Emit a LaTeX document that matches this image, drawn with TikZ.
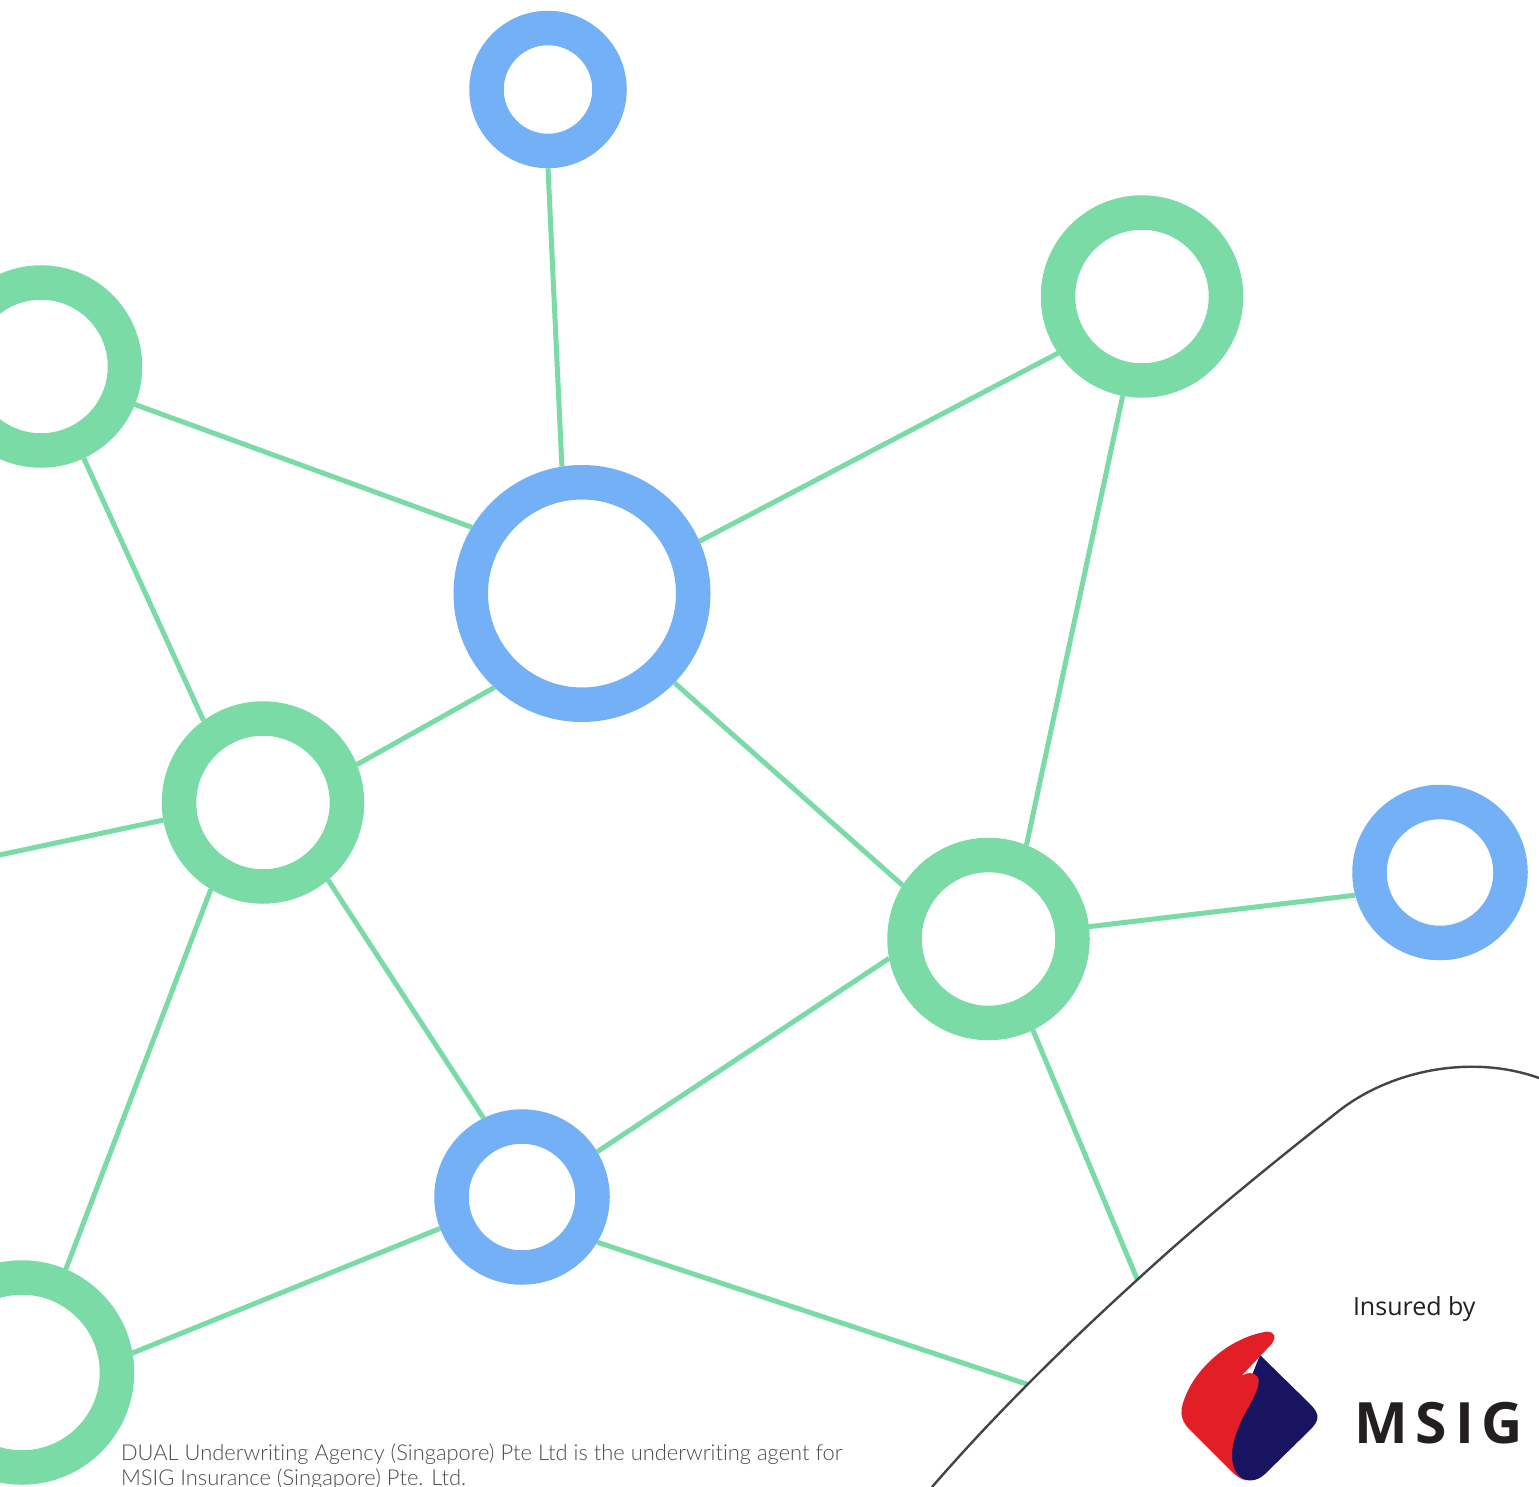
\documentclass[tikz,border=0pt]{standalone}
\usepackage{fontspec}
\setmainfont{Open Sans}
\newfontfamily\notefont[RawFeature=-liga]{Lato Light}
\newfontfamily\insfont{Open Sans}
\newfontfamily\brandfont[LetterSpace=14]{Open Sans}
\definecolor{gr}{HTML}{7BDBA6}
\definecolor{bl}{HTML}{73B0F5}
\definecolor{curvec}{HTML}{444446}
\definecolor{msred}{HTML}{E21F26}
\definecolor{msnavy}{HTML}{181461}
\definecolor{ink}{HTML}{231F20}
\definecolor{note}{HTML}{4A4B4D}
\tikzset{
  hub/.style={circle,fill=white,inner sep=0pt,line width=34.5pt,minimum size=#1},
  greenhub/.style={hub=#1,draw=gr},
  bluehub/.style={hub=#1,draw=bl},
  link/.style={draw=gr,line width=5pt},
  txt/.style={anchor=base west,inner sep=0pt,outer sep=0pt}
}
\begin{document}
\begin{tikzpicture}[x=1pt,y=-1pt]
\clip (0,0) rectangle (1539,1487);
\fill[white] (0,0) rectangle (1539,1487);
\node[bluehub=123pt] (top) at (548,89.5) {};
\node[bluehub=222.5pt] (big) at (582,593.5) {};
\node[greenhub=168pt] (rt) at (1142,296.5) {};
\node[greenhub=168pt] (lt) at (41,366.5) {};
\node[greenhub=168pt] (ml) at (263,802.5) {};
\node[greenhub=168pt] (rm) at (988.5,939) {};
\node[bluehub=141pt] (br) at (1440,872.5) {};
\node[bluehub=141pt] (bb) at (522,1197) {};
\node[greenhub=190pt] (bl) at (22,1372.5) {};
\coordinate (freeL) at (-10,857);
\coordinate (freeA) at (1137.5,1280);
\coordinate (freeB) at (1028,1384.5);
\path[link] (top.-90) -- (big.99.8);
\path[link] (lt.-22.6) -- (big.149.8);
\path[link] (rt.214.2) -- (big.24.6);
\path[link] (rt.259.8) -- (rm.68.9);
\path[link] (big.-44.4) -- (rm.148.5);
\path[link] (big.227.9) -- (ml.22.1);
\path[link] (lt.-65.9) -- (ml.126.4);
\path[link] (ml.190.4) -- (freeL);
\path[link] (ml.239) -- (bl.67.3);
\path[link] (ml.-50) -- (bb.116.3);
\path[link] (rm.191.6) -- (bb.31.3);
\path[link] (rm.7.2) -- (br.195);
\path[link] (rm.-64.7) -- (freeA);
\path[link] (bb.201.4) -- (bl.10.9);
\path[link] (bb.-31) -- (freeB);
\draw[curvec,line width=2.4pt] (932,1487) .. controls (990,1420) and (1060,1350) .. (1137,1280)
  .. controls (1200,1222) and (1270,1165) .. (1340,1110)
  .. controls (1392,1070) and (1472,1054) .. (1539,1078);
\begin{scope}[shift={(1150,1280)},x=0.3333pt,y=-0.3333pt]
\fill[msnavy] (330,225) -- (480,372) .. controls (510,402) and (510,420) .. (480,450)
  -- (345,582) .. controls (320,606) and (290,606) .. (265,590)
  .. controls (240,560) and (240,520) .. (250,480) -- (300,300) -- cycle;
\fill[msred] (350,155) .. controls (375,155) and (382,172) .. (362,195)
  -- (272,290) .. controls (295,272) and (322,278) .. (326,300)
  .. controls (328,330) and (300,370) .. (280,410)
  .. controls (255,460) and (240,510) .. (248,550)
  .. controls (255,580) and (270,595) .. (290,602)
  .. controls (270,598) and (255,585) .. (235,565)
  -- (120,450) .. controls (85,415) and (90,385) .. (110,340)
  .. controls (150,250) and (250,170) .. (350,155) -- cycle;
\end{scope}
\node[txt,font=\insfont\fontsize{25}{25}\selectfont,text=ink] (ins) at (1353,1315) {Insured by};
\node[txt,font=\brandfont\bfseries\fontsize{57}{57}\selectfont,text=ink] (msig) at (1354,1443) {MSIG};
\node[txt,font=\notefont\fontsize{21.9}{21.9}\selectfont,text=note] (n1) at (121,1460) {DUAL Underwriting Agency (Singapore) Pte Ltd is the underwriting agent for};
\node[txt,font=\notefont\fontsize{21.9}{21.9}\selectfont,text=note] (n2) at (121,1485) {MSIG Insurance (Singapore) Pte. Ltd.};
\end{tikzpicture}
\end{document}
